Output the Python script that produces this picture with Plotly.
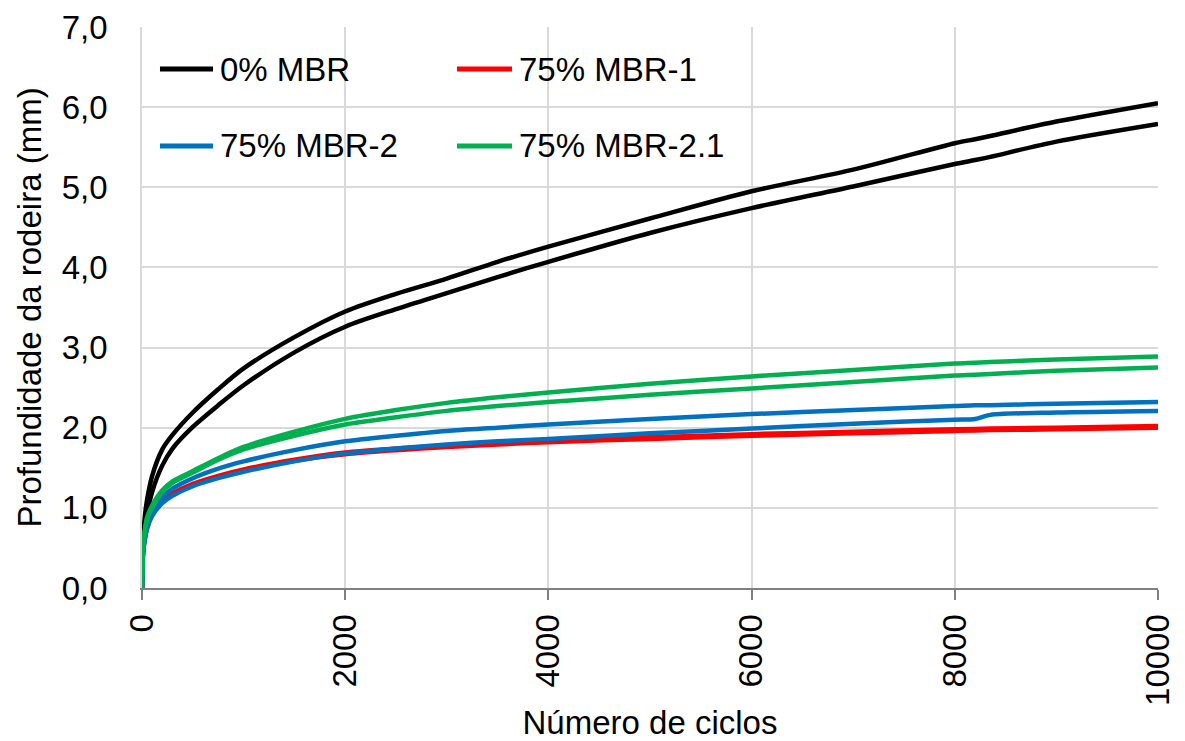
import plotly.graph_objects as go

# ---- data ----
cycles = [0, 10, 25, 50, 100, 200, 300, 500, 750, 1000, 1500, 2000, 2500, 3000,
          3500, 4000, 5000, 6000, 7000, 8000, 8200, 8350, 9000, 10000]

mbr0_a = [0, 0.55, 0.85, 1.10, 1.40, 1.73, 1.91, 2.19, 2.48, 2.74, 3.13, 3.45, 3.67, 3.86,
          4.07, 4.26, 4.61, 4.95, 5.22, 5.55, 5.60, 5.64, 5.82, 6.05]
mbr0_b = [0, 0.45, 0.70, 0.92, 1.20, 1.53, 1.74, 2.01, 2.28, 2.53, 2.94, 3.26, 3.48, 3.68,
          3.88, 4.07, 4.43, 4.74, 5.01, 5.29, 5.34, 5.38, 5.57, 5.79]
mbr1_a = [0, 0.44, 0.60, 0.76, 0.93, 1.09, 1.18, 1.30, 1.40, 1.48, 1.60, 1.69, 1.74, 1.78,
          1.81, 1.84, 1.88, 1.92, 1.95, 1.98, 1.985, 1.99, 2.00, 2.02]
mbr1_b = [0, 0.43, 0.59, 0.75, 0.92, 1.08, 1.17, 1.29, 1.39, 1.47, 1.59, 1.67, 1.72, 1.76,
          1.79, 1.82, 1.86, 1.90, 1.93, 1.96, 1.965, 1.97, 1.98, 2.00]
mbr2_a = [0, 0.45, 0.62, 0.78, 0.95, 1.13, 1.24, 1.37, 1.49, 1.58, 1.72, 1.83, 1.90, 1.96,
          2.00, 2.04, 2.11, 2.17, 2.22, 2.27, 2.28, 2.28, 2.30, 2.32]
mbr2_b = [0, 0.42, 0.58, 0.74, 0.90, 1.06, 1.15, 1.27, 1.37, 1.45, 1.58, 1.68, 1.74, 1.79,
          1.83, 1.86, 1.93, 1.99, 2.05, 2.10, 2.11, 2.16, 2.19, 2.21]
mbr21_a = [0, 0.50, 0.70, 0.88, 1.03, 1.22, 1.33, 1.46, 1.62, 1.76, 1.95, 2.11, 2.22, 2.31,
           2.38, 2.44, 2.55, 2.64, 2.72, 2.80, 2.81, 2.82, 2.85, 2.89]
mbr21_b = [0, 0.48, 0.68, 0.86, 1.00, 1.20, 1.31, 1.44, 1.60, 1.73, 1.90, 2.04, 2.13, 2.21,
           2.27, 2.32, 2.41, 2.49, 2.57, 2.65, 2.66, 2.67, 2.71, 2.75]

series_names = ["0% MBR", "75% MBR-1", "75% MBR-2", "75% MBR-2.1"]
series_colors = ["#000000", "#FF0000", "#0070C0", "#00B050"]
series_data = [(mbr0_a, mbr0_b), (mbr1_a, mbr1_b), (mbr2_a, mbr2_b), (mbr21_a, mbr21_b)]

x_ticks = [0, 2000, 4000, 6000, 8000, 10000]
x_ticktext = ["0", "2000", "4000", "6000", "8000", "10000"]
y_ticks = [0, 1, 2, 3, 4, 5, 6, 7]
y_ticktext = ["0,0", "1,0", "2,0", "3,0", "4,0", "5,0", "6,0", "7,0"]

FONT = "Liberation Sans, Arial, sans-serif"
FS = 33

fig = go.Figure()
for name, color, (ya, yb) in zip(series_names, series_colors, series_data):
    for y in (ya, yb):
        fig.add_trace(go.Scatter(x=cycles, y=y, mode="lines", name=name,
                                 line=dict(color=color, width=4.5, shape="spline", smoothing=0.8),
                                 showlegend=False, hoverinfo="skip"))

# legend box and entries (paper coordinates)
shapes = [dict(type="rect", xref="paper", yref="paper", x0=0.006, x1=0.5935,
               y0=0.717, y1=0.993, fillcolor="white", line=dict(width=0), layer="between")]
annotations = []
leg_pos = [(0.0177, 0.0699, 0.0748, 0.9251), (0.3100, 0.3642, 0.3691, 0.9251),
           (0.0177, 0.0699, 0.0748, 0.7879), (0.3100, 0.3642, 0.3691, 0.7879)]
for (lx0, lx1, tx, ly), name, color in zip(leg_pos, series_names, series_colors):
    shapes.append(dict(type="line", xref="paper", yref="paper", x0=lx0, x1=lx1, y0=ly, y1=ly,
                       line=dict(color=color, width=5), layer="above"))
    annotations.append(dict(xref="paper", yref="paper", x=tx, y=ly, text=name,
                            showarrow=False, xanchor="left", yanchor="middle",
                            font=dict(family=FONT, size=FS, color="black")))

fig.update_layout(
    width=1185, height=741,
    margin=dict(l=142, r=27, t=27, b=153),
    paper_bgcolor="white", plot_bgcolor="white",
    font=dict(family=FONT, size=FS, color="black"),
    shapes=shapes, annotations=annotations,
    showlegend=False,
)
fig.update_xaxes(
    range=[0, 10000], tickvals=x_ticks, ticktext=x_ticktext, tickangle=-90,
    tickfont=dict(family=FONT, size=FS, color="black"),
    showgrid=True, gridcolor="#d9d9d9", gridwidth=1.5,
    showline=True, linecolor="#808080", linewidth=2,
    ticks="outside", ticklen=10, tickwidth=2, tickcolor="#808080",
    zeroline=False, ticklabelstandoff=1, automargin=False,
    title=dict(text="Número de ciclos", font=dict(family=FONT, size=FS), standoff=6),
)
fig.update_yaxes(
    range=[0, 7], tickvals=y_ticks, ticktext=y_ticktext,
    tickfont=dict(family=FONT, size=FS, color="black"),
    showgrid=True, gridcolor="#d9d9d9", gridwidth=1.5,
    showline=True, linecolor="#d9d9d9", linewidth=1.5,
    ticks="", zeroline=False, ticklabelstandoff=26, automargin=False,
    title=dict(text="Profundidade da rodeira (mm)", font=dict(family=FONT, size=FS), standoff=10),
)

fig.write_html("out.html")
